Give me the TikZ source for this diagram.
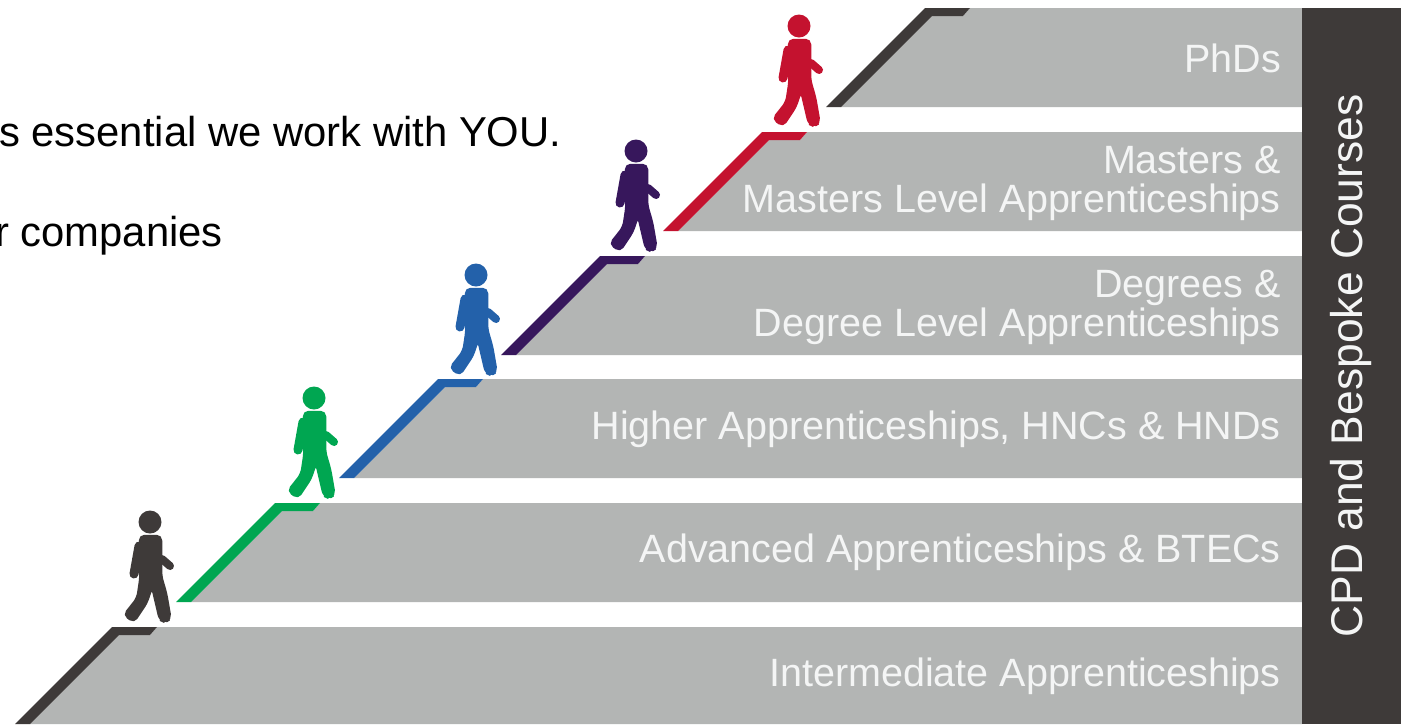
\documentclass[tikz,border=0pt]{standalone}
\usepackage{fontspec}
\setmainfont{Liberation Sans}
\definecolor{stepgray}{HTML}{B3B5B4}
\definecolor{darkstep}{HTML}{3E3A39}
\definecolor{greenstep}{HTML}{00A651}
\definecolor{bluestep}{HTML}{2361AA}
\definecolor{purplestep}{HTML}{37175C}
\definecolor{redstep}{HTML}{C4122F}
\definecolor{labelwhite}{HTML}{F4F5F5}
\tikzset{
  x=1pt,y=-1pt,
  lefttext/.style={anchor=base west,inner sep=0pt,font=\fontsize{41.8}{44}\selectfont,text=black},
  steplabel/.style={anchor=base east,inner sep=0pt,align=right,font=\fontsize{39.5}{42}\selectfont,text=labelwhite},
  sidelabel/.style={inner sep=0pt,rotate=90,font=\fontsize{44.4}{47}\selectfont,text=labelwhite}
}
% #1 top-left x, #2 top y, #3 bottom y, #4 colour
\newcommand{\stairstep}[4]{%
  \fill[stepgray] (#1+45,#2) -- (1302,#2) -- (1302,#3) -- ({#1-(#3-#2)+15},#3) -- (#1+7,#2+8) -- (#1+38,#2+8) -- cycle;
  \fill[#4] (#1,#2) -- (#1+45,#2) -- (#1+38,#2+8) -- (#1+7,#2+8) -- ({#1-(#3-#2)+15},#3) -- ({#1-(#3-#2)},#3) -- cycle;
}
% #1,#2 head centre, #3 colour
\newcommand{\walker}[3]{%
  \begin{scope}[shift={(#1,#2)}]
    \fill[#3] (0,0) circle (11.5);
    \filldraw[#3,line width=1.5,line join=round,rounded corners=5] (-10.5,13.5) -- (11.5,13.5) -- (11.5,54) -- (16.5,71) -- (21,97) -- (15,100.5) -- (9.5,98) -- (2,66) -- (-3,81) -- (-16,100.5) -- (-26.5,93) -- (-13,76) -- (-10,56) -- cycle;
    \draw[#3,line width=9,line cap=round] (-11,24) -- (-16,52);
    \draw[#3,line width=8,line cap=round] (12,37) -- (20,44);
  \end{scope}%
}
\begin{document}
\begin{tikzpicture}
\useasboundingbox (0,0) rectangle (1404,724);
\fill[white] (0,0) rectangle (1404,724);
\stairstep{112}{627}{724}{darkstep}
\stairstep{275}{503}{602}{greenstep}
\stairstep{438}{379}{478}{bluestep}
\stairstep{600}{256}{355}{purplestep}
\stairstep{762}{132}{231}{redstep}
\stairstep{925}{8}{107}{darkstep}
\fill[darkstep] (1302,8) rectangle (1401,724);
\walker{150}{522}{darkstep}
\walker{314}{398}{greenstep}
\walker{476}{275}{bluestep}
\walker{636}{151}{purplestep}
\walker{799}{26}{redstep}
\node[lefttext] (intro) at (-1,146) {s essential we work with YOU.};
\node[lefttext] (comp) at (-5,246) {r companies};
\node[steplabel] (phd) at (1281,72) {PhDs};
\node[steplabel] (msa) at (1281,173) {Masters \&};
\node[steplabel] (msb) at (1281,212.5) {Masters Level Apprenticeships};
\node[steplabel] (dga) at (1281,297) {Degrees \&};
\node[steplabel] (dgb) at (1281,336.5) {Degree Level Apprenticeships};
\node[steplabel] (hi) at (1281,439) {Higher Apprenticeships, HNCs \& HNDs};
\node[steplabel] (ad) at (1281,562) {Advanced Apprenticeships \& BTECs};
\node[steplabel] (in) at (1281,686) {Intermediate Apprenticeships};
\node[sidelabel] (cpd) at (1351,366) {CPD and Bespoke Courses};
\end{tikzpicture}
\end{document}
